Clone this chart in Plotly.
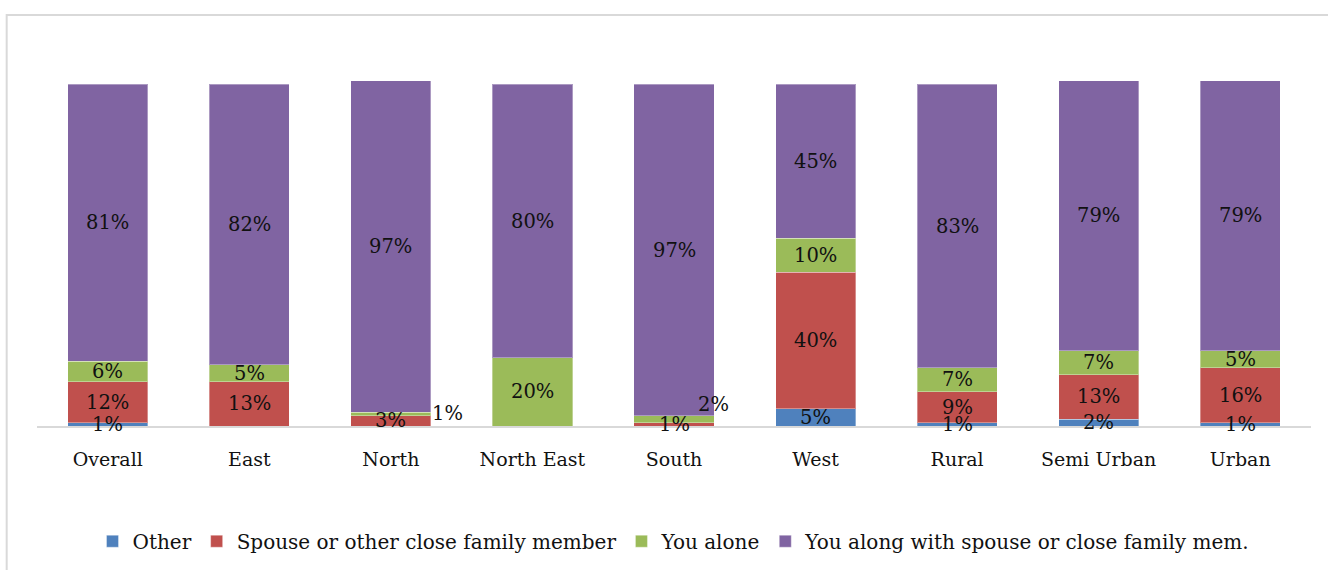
import plotly.graph_objects as go

# Survey response shares (%) by region / locality
categories = ["Overall", "East", "North", "North East", "South",
              "West", "Rural", "Semi Urban", "Urban"]
other = [1, 0, 0, 0, 0, 5, 1, 2, 1]
spouse = [12, 13, 3, 0, 1, 40, 9, 13, 16]
alone = [6, 5, 1, 20, 2, 10, 7, 7, 5]
along = [81, 82, 97, 80, 97, 45, 83, 79, 79]

series = [
    ("Other", other, "#4F81BD"),
    ("Spouse or other close family member", spouse, "#C0504D"),
    ("You alone", alone, "#9BBB59"),
    ("You along with spouse or close family mem.", along, "#8064A2"),
]

FONT = "DejaVu Serif"

fig = go.Figure()
for name, vals, color in series:
    fig.add_trace(go.Bar(
        x=categories, y=vals, name=name,
        marker=dict(color=color, line=dict(color="rgba(255,255,255,0.35)", width=1)),
        hoverinfo="skip",
    ))

# Segment labels centred in each stacked piece; a couple of thin
# segments get their label nudged beside the bar.
nudges = {("North", "You alone"): (57, 1), ("South", "You alone"): (39, 15)}
base = [0] * len(categories)
for name, vals, _ in series:
    for i, v in enumerate(vals):
        if v > 0:
            dx, dy = nudges.get((categories[i], name), (0, 0))
            fig.add_annotation(
                x=categories[i], y=base[i] + v / 2, text=f"{v}%",
                showarrow=False, xshift=dx, yshift=dy,
                font=dict(family=FONT, size=19.5, color="#111111"),
            )
        base[i] += v

# light frame around the chart area
fig.add_shape(type="rect", xref="paper", yref="paper",
              x0=-0.0238, x1=1.2, y0=1.0024, y1=-0.6,
              line=dict(color="#d9d9d9", width=2), fillcolor="rgba(0,0,0,0)",
              layer="below")

fig.update_layout(
    barmode="stack",
    bargap=0.434,
    width=1328, height=570,
    margin=dict(l=37, r=17, t=16, b=144, autoexpand=False),
    paper_bgcolor="white", plot_bgcolor="white",
    font=dict(family=FONT, size=19, color="#111111"),
    showlegend=True,
    legend=dict(orientation="h", x=0.5, xanchor="center",
                y=-0.281, yanchor="middle", itemwidth=30,
                font=dict(family=FONT, size=20, color="#111111"),
                traceorder="normal", itemclick=False),
    xaxis=dict(showline=True, linecolor="#d9d9d9", linewidth=2,
               ticks="outside", ticklen=15, tickcolor="rgba(0,0,0,0)",
               tickfont=dict(family=FONT, size=19, color="#111111"),
               showgrid=False, automargin=False),
    yaxis=dict(range=[0, 120], visible=False, showgrid=False, zeroline=False,
               automargin=False),
)

fig.write_html("out.html")
